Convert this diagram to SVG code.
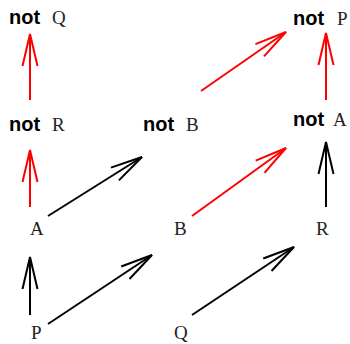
<svg xmlns="http://www.w3.org/2000/svg" width="350" height="344" viewBox="0 0 350 344">
<defs>
<style>
.kw{font-family:"Liberation Sans",Arial,sans-serif;font-weight:bold;font-size:20px;fill:#000}
.v{font-family:"Liberation Serif","Times New Roman",serif;font-size:19px;fill:#222}
.e{stroke-width:2;fill:none}
.red{stroke:#ff0000;marker-end:url(#hr)}
.blk{stroke:#000;marker-end:url(#hb)}
</style>
<marker id="hr" markerUnits="userSpaceOnUse" orient="auto" markerWidth="40" markerHeight="24" refX="33" refY="9" viewBox="0 0 40 24" overflow="visible">
<path d="M1,1.5 L33,9 L1,16.5" stroke="#ff0000" stroke-width="2" fill="none"/>
</marker>
<marker id="hb" markerUnits="userSpaceOnUse" orient="auto" markerWidth="40" markerHeight="24" refX="33" refY="9" viewBox="0 0 40 24" overflow="visible">
<path d="M1,1.5 L33,9 L1,16.5" stroke="#000" stroke-width="2" fill="none"/>
</marker>
</defs>
<g id="connectors">
<line class="e red" x1="30" y1="100" x2="30" y2="34"/>
<line class="e red" x1="30" y1="207" x2="30" y2="150"/>
<line class="e blk" x1="30" y1="315" x2="30" y2="257"/>
<line class="e blk" x1="48" y1="216" x2="142" y2="157"/>
<line class="e blk" x1="48" y1="324" x2="152" y2="255"/>
<line class="e red" x1="192" y1="216" x2="286" y2="148"/>
<line class="e blk" x1="192" y1="315" x2="294" y2="247"/>
<line class="e red" x1="201" y1="91" x2="286" y2="32"/>
<line class="e red" x1="326" y1="100" x2="326" y2="33"/>
<line class="e blk" x1="326" y1="207" x2="326" y2="142"/>
</g>
<g id="notQ"><text class="kw" x="9" y="24">not</text><text class="v" x="52" y="24">Q</text></g>
<g id="notP"><text class="kw" x="293" y="25">not</text><text class="v" x="337" y="25">P</text></g>
<g id="notR"><text class="kw" x="9" y="131">not</text><text class="v" x="52" y="131">R</text></g>
<g id="notB"><text class="kw" x="143" y="131">not</text><text class="v" x="186" y="131">B</text></g>
<g id="notA"><text class="kw" x="293" y="126">not</text><text class="v" x="333" y="126">A</text></g>
<g id="A"><text class="v" x="30" y="235">A</text></g>
<g id="B"><text class="v" x="174" y="235">B</text></g>
<g id="R"><text class="v" x="316" y="235">R</text></g>
<g id="P"><text class="v" x="31" y="339">P</text></g>
<g id="Q"><text class="v" x="174" y="339">Q</text></g>
</svg>
